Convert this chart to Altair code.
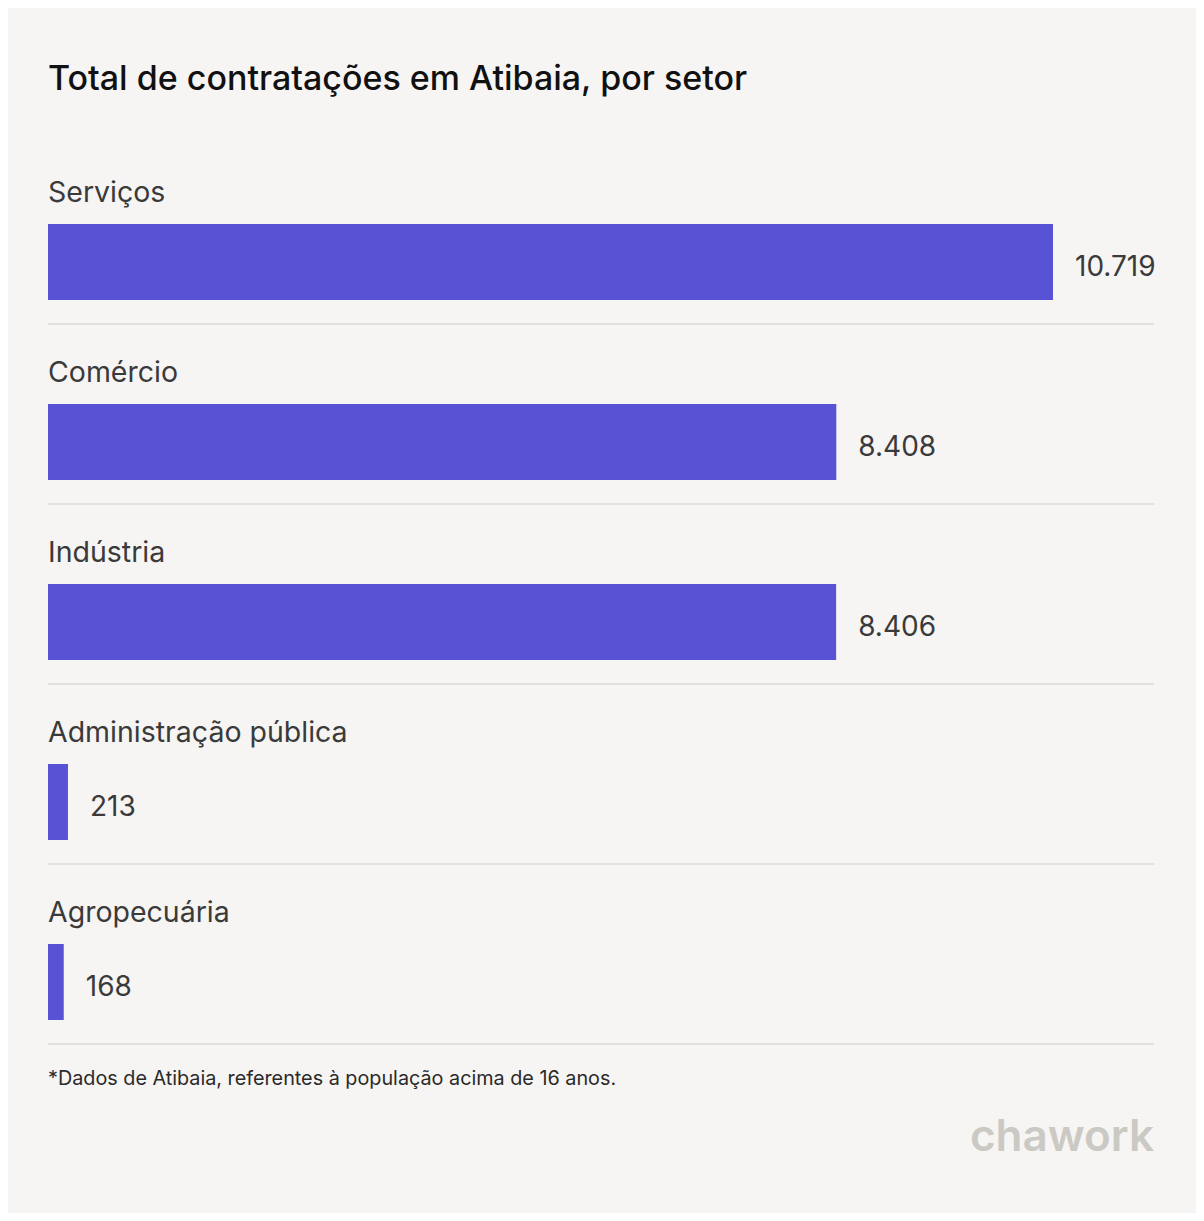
import altair as alt
import pandas as pd

sectors = ["Serviços", "Comércio", "Indústria", "Administração pública", "Agropecuária"]
values = [10719, 8408, 8406, 213, 168]
value_labels = [f"{v:,}".replace(",", ".") for v in values]

title_text = "Total de contratações em Atibaia, por setor"
footnote_text = "*Dados de Atibaia, referentes à população acima de 16 anos."
logo_text = "chawork"

df = pd.DataFrame({"sector": sectors, "value": values, "label": value_labels})

W = 1106
H = 900
FONT = "Inter"
BAR = "#5852d5"
TXT = "#3a3a3a"

xscale = alt.Scale(domain=[0, 10719 * W / 1005], range=[0, W])
yscale = alt.Scale(domain=sectors, paddingInner=0, paddingOuter=0)

base = alt.Chart(df)

bars = base.mark_bar(height=76, yOffset=28, color=BAR).encode(
    x=alt.X("value:Q", scale=xscale, axis=None),
    y=alt.Y("sector:N", scale=yscale, axis=None, sort=sectors),
)

cat_labels = base.mark_text(
    align="left", baseline="alphabetic", yOffset=-32, font=FONT, fontSize=28.5, color=TXT
).encode(
    x=alt.value(0),
    y=alt.Y("sector:N", scale=yscale, axis=None, sort=sectors),
    text="sector:N",
)

val_labels = base.mark_text(
    align="left", baseline="middle", yOffset=34, dx=22, font=FONT, fontSize=28, color=TXT
).encode(
    x=alt.X("value:Q", scale=xscale, axis=None),
    y=alt.Y("sector:N", scale=yscale, axis=None, sort=sectors),
    text="label:N",
)

rules = base.mark_rule(color="#e3e1dd", strokeWidth=2, yOffset=90).encode(
    x=alt.value(0),
    x2=alt.value(W),
    y=alt.Y("sector:N", scale=yscale, axis=None, sort=sectors),
)

foot = alt.Chart(pd.DataFrame({"t": [footnote_text]})).mark_text(
    align="left", baseline="alphabetic", font=FONT, fontSize=19.8, color="#2a2a2a"
).encode(x=alt.value(0), y=alt.value(H + 41), text="t:N")

logo = alt.Chart(pd.DataFrame({"t": [logo_text]})).mark_text(
    align="right", baseline="alphabetic", font=FONT, fontSize=44, fontWeight=600,
    color="#cbc9c3"
).encode(x=alt.value(W), y=alt.value(H + 107), text="t:N")

chart = alt.layer(rules, bars, cat_labels, val_labels, foot, logo).properties(
    width=W,
    height=H,
    title=alt.TitleParams(
        title_text, anchor="start", frame="group", font=FONT, fontSize=34,
        fontWeight=500, color="#111111", baseline="alphabetic", offset=20,
    ),
    padding={"left": 40, "top": 136, "right": 42, "bottom": 169},
    autosize=alt.AutoSizeParams(type="none"),
    background="#f6f5f3",
).configure_view(stroke=None)

chart.save("out.html", embed_options={"renderer": "svg", "actions": False})
